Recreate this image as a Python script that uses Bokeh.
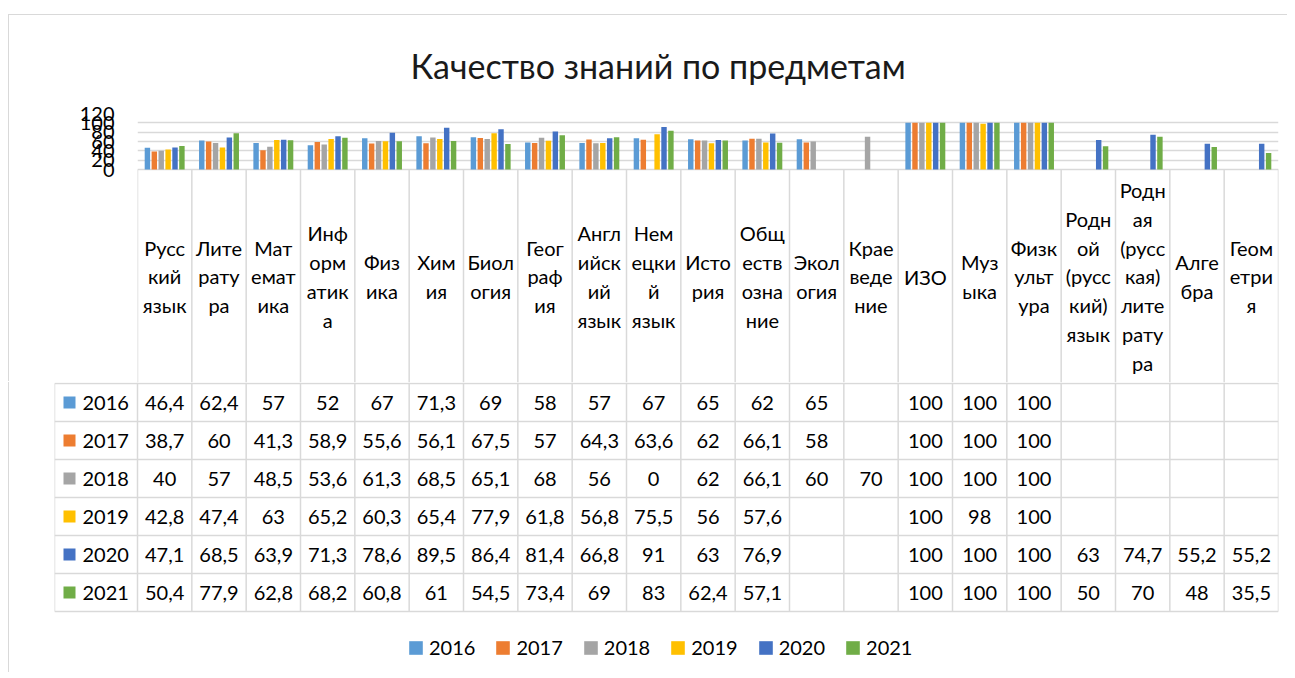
import math
from bokeh.plotting import figure
from bokeh.models import (Range1d, ColumnDataSource, Legend, LegendItem, FixedTicker, Title,
                          LinearScale)
from bokeh.transform import dodge
from bokeh.core.properties import value
from bokeh.embed import file_html
from bokeh.resources import INLINE

NaN = float("nan")

# ---------------- data ----------------
subjects = ["Русский язык", "Литература", "Математика", "Информатика", "Физика", "Химия",
            "Биология", "География", "Английский язык", "Немецкий язык", "История",
            "Обществознание", "Экология", "Краеведение", "ИЗО", "Музыка", "Физкультура",
            "Родной (русский) язык", "Родная (русская) литература", "Алгебра", "Геометрия"]
subject_labels = ["Русс\nкий\nязык", "Лите\nрату\nра", "Мат\nемат\nика", "Инф\nорм\nатик\nа",
                  "Физ\nика", "Хим\nия", "Биол\nогия", "Геог\nраф\nия", "Англ\nийск\nий\nязык",
                  "Нем\nецки\nй\nязык", "Исто\nрия", "Общ\nеств\nозна\nние", "Экол\nогия",
                  "Крае\nведе\nние", "ИЗО", "Муз\nыка", "Физк\nульт\nура",
                  "Родн\nой\n(русс\nкий)\nязык", "Родн\nая\n(русс\nкая)\nлите\nрату\nра",
                  "Алге\nбра", "Геом\nетри\nя"]
years = ["2016", "2017", "2018", "2019", "2020", "2021"]

v2016 = [46.4, 62.4, 57, 52, 67, 71.3, 69, 58, 57, 67, 65, 62, 65, NaN, 100, 100, 100, NaN, NaN, NaN, NaN]
v2017 = [38.7, 60, 41.3, 58.9, 55.6, 56.1, 67.5, 57, 64.3, 63.6, 62, 66.1, 58, NaN, 100, 100, 100, NaN, NaN, NaN, NaN]
v2018 = [40, 57, 48.5, 53.6, 61.3, 68.5, 65.1, 68, 56, 0, 62, 66.1, 60, 70, 100, 100, 100, NaN, NaN, NaN, NaN]
v2019 = [42.8, 47.4, 63, 65.2, 60.3, 65.4, 77.9, 61.8, 56.8, 75.5, 56, 57.6, NaN, NaN, 100, 98, 100, NaN, NaN, NaN, NaN]
v2020 = [47.1, 68.5, 63.9, 71.3, 78.6, 89.5, 86.4, 81.4, 66.8, 91, 63, 76.9, NaN, NaN, 100, 100, 100, 63, 74.7, 55.2, 55.2]
v2021 = [50.4, 77.9, 62.8, 68.2, 60.8, 61, 54.5, 73.4, 69, 83, 62.4, 57.1, NaN, NaN, 100, 100, 100, 50, 70, 48, 35.5]
series = [v2016, v2017, v2018, v2019, v2020, v2021]

y_ticks = [0, 20, 40, 60, 80, 100, 120]
title_text = "Качество знаний по предметам"

colors = ["#5B9BD5", "#ED7D31", "#A5A5A5", "#FFC000", "#4472C4", "#70AD47"]

# ---------------- layout constants (page pixels) ----------------
FONT = "Lato"
GRID = "#d9d9d9"
TXT = "#000000"
PAGE_L, PAGE_T = 9, 15            # chart box origin
W = 1279
AREA_L, AREA_R = 137, 1278        # plot area / table columns
AREA_T, ZERO_Y = 113, 169         # top of value 120, value 0
SPLIT_Y = 382                     # boundary between the two figures
TABLE_L = 54
ROW0 = 383
ROW_H = 38
HEAD_Y = 276
BOTTOM = 672
TITLE_X = 410

BL = AREA_L - PAGE_L
BR = PAGE_L + W - AREA_R
PLOT_W = AREA_R - AREA_L
NCOL = len(subjects)
CW = PLOT_W / NCOL
px_per_unit = (ZERO_Y - AREA_T) / 120.0
ymin = -(SPLIT_Y - ZERO_Y) / px_per_unit

# ---------------- chart + header (top figure) ----------------
src = ColumnDataSource(dict(idx=[i + 0.5 for i in range(NCOL)], cat=subjects,
                            **{y: s for y, s in zip(years, series)}))

pA = figure(width=W, height=SPLIT_Y - PAGE_T, x_range=Range1d(0, NCOL), y_range=Range1d(ymin, 120),
            output_backend="svg", toolbar_location=None, x_axis_location=None,
            min_border_left=BL, min_border_right=BR, min_border_top=AREA_T - PAGE_T,
            min_border_bottom=0, outline_line_color=None,
            margin=(PAGE_T, 0, 0, PAGE_L), styles={"box-shadow": "-1px -1px 0 0 #d9d9d9"})
pA.extra_y_ranges = {"py": Range1d(SPLIT_Y, AREA_T)}
pA.extra_y_scales = {"py": LinearScale()}

pA.title = Title(text=title_text, align="left", text_font_size="34px", text_font=FONT,
                 text_font_style="normal", text_color="#1a1a1a", standoff=55,
                 offset=TITLE_X - AREA_L)

bar_w = 0.1
pitch = 0.127
for j, y in enumerate(years):
    pA.vbar(x=dodge("idx", (j - 2.5) * pitch), top=y, width=bar_w,
            bottom=0, source=src, fill_color=colors[j], line_color=None)

pA.yaxis.ticker = FixedTicker(ticks=y_ticks)
pA.yaxis.axis_line_color = None
pA.yaxis.major_tick_line_color = None
pA.yaxis.minor_tick_line_color = None
pA.yaxis.major_label_standoff = 17
pA.yaxis.major_label_text_font_size = "20px"
pA.yaxis.major_label_text_font = FONT
pA.yaxis.major_label_text_color = TXT
pA.xgrid.visible = False
pA.ygrid.grid_line_color = GRID
pA.ygrid.grid_line_width = 1.5

# table column lines below the axis, and header labels
bk = list(range(NCOL + 1))
pA.segment(x0=bk, x1=bk, y0=[0] * len(bk), y1=[ymin] * len(bk),
           line_color=GRID, line_width=1.5)
pA.text(x=[i + 0.5 for i in range(NCOL)], y=[HEAD_Y] * NCOL, y_range_name="py",
        text=subject_labels, text_align="center", text_baseline="middle",
        text_font=value(FONT), text_font_size="20px", text_line_height=1.2, text_color=TXT)

# ---------------- data table rows + legend (bottom figure) ----------------
pB = figure(width=W, height=BOTTOM - SPLIT_Y,
            x_range=Range1d(TABLE_L - AREA_L, PLOT_W), y_range=Range1d(BOTTOM, SPLIT_Y),
            output_backend="svg", toolbar_location=None, x_axis_location=None, y_axis_location=None,
            min_border_left=TABLE_L - PAGE_L, min_border_right=BR, min_border_top=0, min_border_bottom=0,
            outline_line_color=None, margin=(0, 0, 0, PAGE_L),
            styles={"box-shadow": "-1px 0 0 0 #d9d9d9"})
pB.grid.visible = False

NR = len(years)
TABLE_B = ROW0 + ROW_H * NR
bx = [k * CW for k in bk]
vx = bx + [TABLE_L - AREA_L]
vy0 = [SPLIT_Y] * len(bx) + [ROW0]
vy1 = [TABLE_B] * len(vx)
pB.segment(x0=vx, x1=vx, y0=vy0, y1=vy1, line_color=GRID, line_width=1.5)
hy = [ROW0 + ROW_H * r for r in range(NR + 1)]
pB.segment(x0=[TABLE_L - AREA_L] * len(hy), x1=[PLOT_W] * len(hy), y0=hy, y1=hy,
           line_color=GRID, line_width=1.5)

cx = [(i + 0.5) * CW for i in range(NCOL)]

def fmt(v):
    if v is None or (isinstance(v, float) and math.isnan(v)):
        return ""
    return f"{v:g}".replace(".", ",")

legend_items = []
for r, (y, s) in enumerate(zip(years, series)):
    yc = ROW0 + ROW_H * r + ROW_H / 2
    pB.text(x=cx, y=[yc] * NCOL, text=[fmt(v) for v in s], text_align="center",
            text_baseline="middle", text_font=value(FONT), text_font_size="20px", text_color=TXT)
    pB.text(x=[-55], y=[yc], text=[y], text_align="left", text_baseline="middle",
            text_font=value(FONT), text_font_size="20px", text_color=TXT)
    q = pB.quad(left=[-74], right=[-62], top=[yc - 6], bottom=[yc + 6],
                fill_color=colors[r], line_color=None)
    legend_items.append(LegendItem(label=y, renderers=[q]))

legend = Legend(items=legend_items, orientation="horizontal", location=(353, 13),
                glyph_width=17, glyph_height=17, label_standoff=5, spacing=19, padding=0, margin=0,
                border_line_color=None, background_fill_alpha=0,
                label_text_font_size="20px", label_text_font=FONT, label_text_color=TXT)
pB.add_layout(legend)

open("out.html", "w").write(file_html([pA, pB], INLINE))
